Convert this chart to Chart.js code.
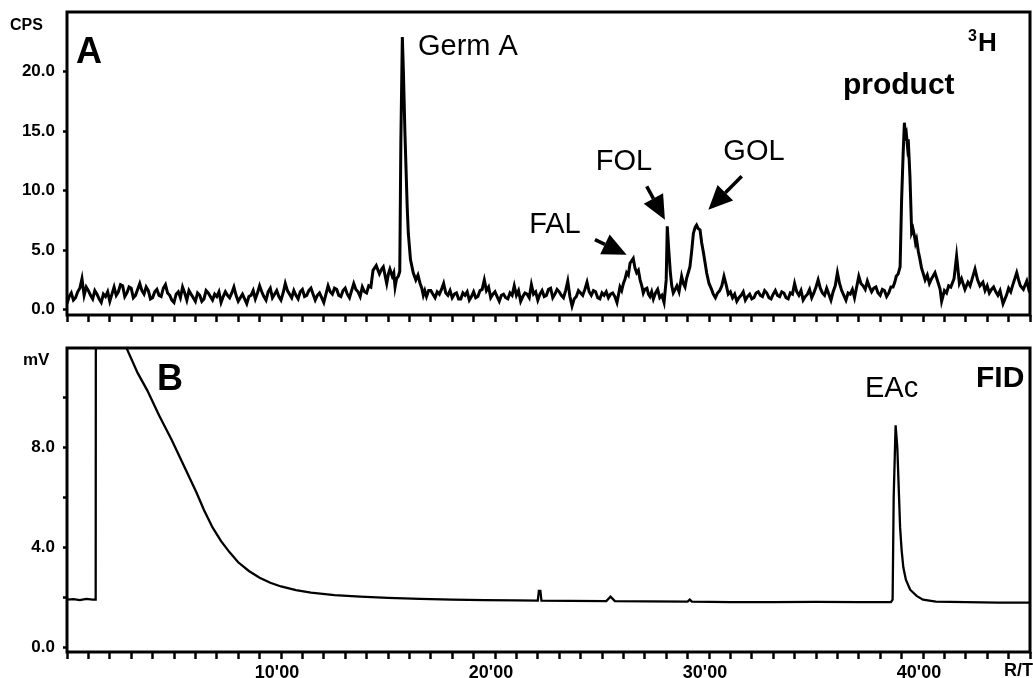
<!DOCTYPE html>
<html>
<head>
<meta charset="utf-8">
<script src="https://cdn.jsdelivr.net/npm/chart.js@4.4.1/dist/chart.umd.min.js"></script>
<style>
  html, body { margin: 0; padding: 0; background: #fff; }
  #wrap { position: relative; width: 1033px; height: 678px; }
  canvas { position: absolute; left: 0; }
  #chartA { top: 0; }
  #chartB { top: 335px; }
</style>
</head>
<body>
<div id="wrap">
  <canvas id="chartA" width="1033" height="335"></canvas>
  <canvas id="chartB" width="1033" height="343"></canvas>
</div>
<script>
// panel A : radioactivity detector (3H) -> [retention time (min), CPS]
const cpsTrace = [
  [0.0,0.5],[0.1,1.1],[0.2,1.4],[0.3,0.8],[0.4,1.0],[0.5,1.5],[0.6,1.8],[0.7,2.6],[0.8,1.2],[0.9,1.9],
  [1.0,1.6],[1.1,1.2],[1.2,0.9],[1.3,1.6],[1.4,1.3],[1.5,0.9],[1.6,0.6],[1.7,1.3],[1.8,1.1],[1.9,1.5],
  [2.0,0.7],[2.1,1.3],[2.2,1.9],[2.3,1.2],[2.4,1.5],[2.5,2.1],[2.6,2.0],[2.7,1.1],[2.8,1.4],[2.9,1.9],
  [3.0,1.8],[3.1,1.0],[3.2,1.2],[3.3,1.7],[3.4,2.2],[3.5,1.6],[3.6,1.3],[3.7,1.9],[3.8,1.6],[3.9,0.9],
  [4.0,1.0],[4.1,1.5],[4.2,1.7],[4.3,1.2],[4.4,1.1],[4.5,1.8],[4.6,2.1],[4.7,1.4],[4.8,1.2],[4.9,0.8],
  [5.0,0.6],[5.1,1.3],[5.2,1.5],[5.3,1.0],[5.4,1.9],[5.5,1.4],[5.6,0.8],[5.7,1.6],[5.8,1.3],[5.9,1.0],
  [6.0,0.7],[6.1,1.4],[6.2,1.2],[6.3,0.7],[6.4,0.9],[6.5,1.6],[6.6,1.4],[6.7,1.1],[6.8,0.8],[6.9,1.3],
  [7.0,1.1],[7.1,1.5],[7.2,0.6],[7.3,1.1],[7.4,1.5],[7.5,1.2],[7.6,1.0],[7.7,1.4],[7.8,1.9],[7.9,1.2],
  [8.0,0.7],[8.1,1.0],[8.2,1.3],[8.3,0.9],[8.4,0.5],[8.5,1.1],[8.6,1.2],[8.7,1.6],[8.8,0.9],[8.9,1.4],
  [9.0,2.0],[9.1,1.5],[9.2,1.1],[9.3,0.8],[9.4,1.5],[9.5,1.8],[9.6,1.0],[9.7,1.3],[9.8,1.6],[9.9,1.1],
  [10.0,0.8],[10.1,1.4],[10.2,2.2],[10.3,1.6],[10.4,1.3],[10.5,1.0],[10.6,1.6],[10.7,1.2],[10.8,0.9],[10.9,1.5],
  [11.0,1.7],[11.1,1.1],[11.2,1.2],[11.3,1.6],[11.4,1.8],[11.5,1.3],[11.6,0.8],[11.7,1.2],[11.8,1.4],[11.9,1.0],
  [12.0,0.6],[12.1,1.3],[12.2,2.0],[12.3,1.5],[12.4,1.3],[12.5,1.8],[12.6,1.7],[12.7,1.2],[12.8,1.1],[12.9,1.6],
  [13.0,1.8],[13.1,1.3],[13.2,1.0],[13.3,1.6],[13.4,2.2],[13.5,1.7],[13.6,1.5],[13.7,1.1],[13.8,1.9],[13.9,1.5],
  [14.0,1.4],[14.1,2.0],[14.2,1.9],
  // shoulder and Germ A
  [14.3,3.3],[14.45,3.7],[14.6,3.0],[14.7,3.4],[14.78,3.6],[14.86,2.9],[14.94,2.2],[15.02,3.0],[15.09,3.4],
  [15.2,2.8],[15.27,3.1],[15.33,1.9],[15.4,2.6],[15.48,2.8],[15.55,3.2],[15.6,14.0],[15.67,22.9],[15.72,20.0],
  [15.79,14.9],[15.9,8.5],[15.95,6.4],[16.05,4.2],[16.18,3.1],[16.3,2.5],[16.4,2.9],[16.5,2.2],[16.58,1.8],
  [16.65,1.2],[16.72,1.6],
  [16.8,1.1],[16.9,1.6],[17.0,1.6],[17.1,1.3],[17.2,1.0],[17.3,1.5],[17.4,1.3],[17.5,1.7],[17.6,2.2],[17.7,1.4],
  [17.8,1.2],[17.9,1.6],[18.0,1.0],[18.1,1.3],[18.2,1.4],[18.3,0.9],[18.4,0.9],[18.5,1.4],[18.6,1.2],[18.7,1.5],
  [18.8,0.8],[18.9,1.1],[19.0,1.5],[19.1,1.0],[19.2,1.1],[19.3,1.6],[19.4,1.7],[19.5,2.5],[19.6,1.6],[19.7,1.9],
  [19.8,1.0],[19.9,1.3],[20.0,1.5],[20.1,1.1],[20.2,0.7],[20.3,1.2],[20.4,1.3],[20.5,1.0],[20.6,0.9],[20.7,1.4],
  [20.8,1.2],[20.9,2.0],[21.0,1.2],[21.1,1.6],[21.2,0.7],[21.3,1.1],[21.4,1.4],[21.5,1.3],[21.6,1.0],[21.7,2.1],
  [21.8,1.3],[21.9,1.5],[22.0,0.8],[22.1,1.3],[22.2,1.6],[22.3,1.1],[22.4,1.2],[22.5,1.7],[22.6,1.8],[22.7,1.0],
  [22.8,1.3],[22.9,1.7],[23.0,1.5],[23.1,1.2],[23.2,1.0],[23.3,1.6],[23.4,2.4],[23.5,1.1],[23.6,0.3],[23.7,0.9],
  [23.8,1.1],[23.9,1.6],[24.0,1.4],[24.1,1.2],[24.2,1.7],[24.3,2.3],[24.4,1.5],[24.5,1.2],[24.6,1.6],[24.7,1.5],
  [24.8,1.0],[24.9,0.9],[25.0,1.4],[25.1,1.2],[25.2,1.5],[25.3,1.0],[25.4,1.3],[25.5,1.4],[25.6,1.1],[25.7,0.6],
  // FAL, FOL, GOL
  [25.84,1.9],[25.92,1.6],[26.0,2.2],[26.08,2.6],[26.15,3.1],[26.23,2.9],[26.31,3.9],[26.46,4.3],[26.54,3.5],
  [26.62,3.1],[26.7,3.3],[26.78,2.5],[26.86,2.0],[26.93,1.4],[27.0,1.7],[27.1,1.8],[27.17,1.3],[27.24,1.1],
  [27.32,1.5],[27.4,0.9],[27.5,1.4],[27.6,1.7],[27.7,1.0],[27.8,1.2],[27.9,0.6],[28.0,2.5],[28.05,7.0],
  [28.12,5.0],[28.19,3.2],[28.26,2.0],[28.33,1.4],[28.42,1.7],[28.5,2.0],[28.6,1.5],[28.72,2.8],[28.8,2.2],
  [28.88,1.9],[28.95,2.6],[29.03,3.1],[29.11,3.6],[29.19,4.9],[29.27,6.4],[29.35,6.9],[29.42,7.1],[29.5,6.8],
  [29.58,6.7],[29.66,5.6],[29.74,4.8],[29.82,3.9],[29.89,3.1],[30.0,2.2],[30.12,1.7],[30.2,1.3],
  [30.3,1.0],[30.4,1.4],[30.5,1.6],[30.6,2.0],[30.7,2.8],[30.8,2.1],[30.9,1.3],[31.0,1.5],[31.1,1.0],[31.2,1.3],
  [31.3,0.7],[31.4,1.0],[31.5,1.2],[31.6,1.5],[31.7,0.8],[31.8,1.1],[31.9,1.3],[32.0,0.9],[32.1,1.0],[32.2,1.4],
  [32.3,1.5],[32.4,1.2],[32.5,1.1],[32.6,1.6],[32.7,1.4],[32.8,1.0],[32.9,0.9],[33.0,1.3],[33.1,1.6],[33.2,1.2],
  [33.3,1.1],[33.4,1.5],[33.5,1.4],[33.6,1.0],[33.7,0.9],[33.8,1.4],[33.9,1.3],[34.0,2.2],[34.1,1.5],[34.2,1.2],
  [34.3,1.6],[34.4,0.8],[34.5,1.1],[34.6,1.3],[34.7,1.7],[34.8,1.0],[34.9,1.4],[35.0,1.9],[35.1,2.5],[35.2,1.8],
  [35.3,1.4],[35.4,1.2],[35.5,1.8],[35.6,1.3],[35.7,0.8],[35.8,1.5],[35.9,2.0],[36.0,3.1],[36.1,2.2],[36.2,1.6],
  [36.3,1.2],[36.4,0.8],[36.5,1.4],[36.6,1.3],[36.7,1.7],[36.8,1.0],[36.9,1.9],[37.0,2.8],[37.1,2.2],[37.2,2.0],
  [37.3,1.7],[37.4,2.4],[37.5,1.9],[37.6,1.5],[37.7,1.8],[37.8,1.9],[37.9,1.4],[38.0,1.2],[38.1,1.7],[38.2,1.6],
  [38.3,1.1],[38.4,1.4],[38.5,1.9],[38.6,1.9],
  // product
  [38.68,2.3],[38.75,2.8],[38.84,3.0],[38.93,3.6],[39.0,9.2],[39.07,13.0],[39.13,15.7],[39.18,14.6],[39.22,14.8],
  [39.27,13.8],[39.31,14.3],[39.39,11.2],[39.47,6.5],[39.53,6.8],[39.6,6.2],[39.65,5.6],[39.7,5.9],[39.78,4.9],
  [39.86,4.2],[39.93,3.5],
  [40.0,3.1],[40.1,2.5],[40.2,2.9],[40.3,2.2],[40.4,2.6],[40.56,3.1],[40.7,2.3],[40.8,1.7],[40.87,0.7],[41.0,1.6],
  [41.1,1.4],[41.2,2.0],[41.3,1.9],[41.45,2.6],[41.57,4.5],[41.7,2.2],[41.8,2.6],[41.96,1.7],[42.1,2.3],[42.2,2.0],
  [42.3,2.6],[42.43,3.4],[42.55,2.5],[42.66,2.0],[42.8,2.3],[42.9,1.6],[43.0,2.0],[43.1,1.4],[43.2,1.7],[43.3,1.9],
  [43.4,1.5],[43.5,1.2],[43.6,1.6],[43.74,0.5],[43.9,1.2],[44.0,1.8],[44.1,1.5],[44.2,2.1],[44.38,3.1],[44.48,2.4],
  [44.55,2.0],[44.69,1.7],[44.78,2.1],[44.85,2.4],[44.93,1.8],[45.0,2.2]
];

// panel B : flame ionisation detector -> [retention time (min), mV]
const fidTrace = [
  [0.0,1.9],[0.3,1.92],[0.6,1.88],[0.9,1.93],[1.2,1.9],[1.34,1.9],[1.36,30],[2.6,30],[2.78,12.0],
  [3.3,11.0],[3.75,10.3],[4.3,9.3],[4.9,8.3],[5.5,7.2],[6.05,6.2],[6.4,5.5],[6.8,4.8],[7.2,4.25],
  [7.6,3.8],[8.0,3.4],[8.5,3.05],[9.0,2.78],[9.5,2.58],[10.0,2.43],[10.7,2.28],[11.4,2.18],[12.5,2.08],
  [13.7,2.02],[15.0,1.97],[16.5,1.93],[18.0,1.9],[19.5,1.88],[21.0,1.87],[22.0,1.86],[22.05,2.25],
  [22.12,2.25],[22.17,1.86],[23.5,1.85],[25.2,1.84],[25.4,2.02],[25.6,1.84],[27.0,1.83],[29.0,1.82],
  [29.1,1.9],[29.2,1.82],[31.0,1.8],[33.0,1.8],[35.0,1.81],[37.0,1.8],[38.5,1.8],[38.58,1.9],[38.63,6.0],
  [38.72,8.9],[38.8,8.0],[38.93,4.8],[39.0,3.9],[39.08,3.2],[39.2,2.7],[39.4,2.3],[39.7,2.05],[40.0,1.9],
  [40.6,1.82],[42.0,1.8],[43.5,1.78],[45.0,1.78]
];

const ticksA = [0, 5, 10, 15, 20];
const ticksB = [0, 2, 4, 6, 8, 10];
const labelledB = [0, 4, 8];
const minuteLabels = [10, 20, 30, 40];

const FONT = '"Liberation Sans", Arial, Helvetica, sans-serif';

// frame, texts and arrows
const decorPlugin = {
  id: 'decor',
  afterDraw(chart, args, opts) {
    const ctx = chart.ctx;
    const xs = chart.scales.x, ys = chart.scales.y;
    const a = chart.chartArea;
    ctx.save();
    ctx.strokeStyle = '#000';
    ctx.fillStyle = '#000';
    ctx.lineWidth = 3;
    ctx.strokeRect(a.left, a.top, a.right - a.left, a.bottom - a.top);

    (opts.texts || []).forEach(it => {
      const px = it.t !== undefined ? xs.getPixelForValue(it.t) : it.x;
      const py = it.v !== undefined ? ys.getPixelForValue(it.v) : it.y;
      ctx.font = it.font;
      ctx.textAlign = it.align || 'left';
      ctx.textBaseline = it.baseline || 'alphabetic';
      ctx.fillText(it.text, px, py);
    });

    (opts.arrows || []).forEach(ar => {
      const x0 = xs.getPixelForValue(ar.from[0]), y0 = ys.getPixelForValue(ar.from[1]);
      const x1 = xs.getPixelForValue(ar.to[0]), y1 = ys.getPixelForValue(ar.to[1]);
      const ang = Math.atan2(y1 - y0, x1 - x0);
      const hl = 24, hw = 11;
      const bx = x1 - hl * Math.cos(ang), by = y1 - hl * Math.sin(ang);
      ctx.lineWidth = 3.5;
      ctx.beginPath();
      ctx.moveTo(x0, y0);
      ctx.lineTo(bx, by);
      ctx.stroke();
      ctx.beginPath();
      ctx.moveTo(x1, y1);
      ctx.lineTo(bx + hw * Math.sin(ang), by - hw * Math.cos(ang));
      ctx.lineTo(bx - hw * Math.sin(ang), by + hw * Math.cos(ang));
      ctx.closePath();
      ctx.fill();
    });
    ctx.restore();
  }
};

function timeAxis(withLabels) {
  return {
    type: 'linear',
    min: 0,
    max: 45,
    border: { display: false },
    grid: { drawOnChartArea: false, drawTicks: true, tickLength: 7, tickWidth: 2.5, tickColor: '#000' },
    afterBuildTicks: s => {
      s.ticks = [];
      for (let m = 0; m <= 45; m++) s.ticks.push({ value: m });
    },
    ticks: {
      display: withLabels,
      autoSkip: false,
      maxRotation: 0,
      padding: 3,
      labelOffset: -4,
      color: '#000',
      font: { family: FONT, size: 18, weight: 'bold' },
      callback: v => minuteLabels.includes(v) ? v + "'00" : ''
    },
    afterFit: s => {
      s.height = withLabels ? 26 : 20;
      s.paddingLeft = 0;
      s.paddingRight = 0;
    }
  };
}

function valueAxis(min, max, tickList, shown) {
  return {
    type: 'linear',
    min: min,
    max: max,
    border: { display: false },
    grid: { drawOnChartArea: false, drawTicks: true, tickLength: 4, tickWidth: 2.5, tickColor: '#000' },
    afterBuildTicks: s => { s.ticks = tickList.map(v => ({ value: v })); },
    ticks: {
      padding: 8,
      color: '#000',
      font: { family: FONT, size: 17, weight: 'bold' },
      callback: v => shown.includes(v) ? v.toFixed(1) : ''
    },
    afterFit: s => {
      s.width = 67;
      s.paddingTop = 0;
      s.paddingBottom = 0;
    }
  };
}

new Chart(document.getElementById('chartA'), {
  type: 'line',
  data: {
    datasets: [{
      data: cpsTrace.map(p => ({ x: p[0], y: p[1] })),
      borderColor: '#000',
      borderWidth: 3,
      pointRadius: 0,
      tension: 0
    }]
  },
  options: {
    responsive: false,
    animation: false,
    layout: { padding: { top: 12, right: 3, left: 0, bottom: 0 } },
    scales: {
      x: timeAxis(false),
      y: valueAxis(-0.45, 25, ticksA, ticksA)
    },
    plugins: {
      legend: { display: false },
      tooltip: { enabled: false },
      decor: {
        texts: [
          { text: 'A', x: 76, y: 63, font: 'bold 36px ' + FONT },
          { text: 'CPS', x: 10, y: 30, font: 'bold 16px ' + FONT },
          { text: '3', x: 968, y: 41, font: 'bold 16px ' + FONT },
          { text: 'H', x: 978, y: 51, font: 'bold 26px ' + FONT },
          { text: 'Germ A', t: 16.4, v: 21.4, font: '29px ' + FONT },
          { text: 'FAL', t: 22.8, v: 6.4, font: '29px ' + FONT, align: 'center' },
          { text: 'FOL', t: 26.03, v: 11.76, font: '29px ' + FONT, align: 'center' },
          { text: 'GOL', t: 32.1, v: 12.6, font: '29px ' + FONT, align: 'center' },
          { text: 'product', t: 36.26, v: 18.1, font: 'bold 30px ' + FONT }
        ],
        arrows: [
          { from: [24.67, 5.88], to: [26.15, 4.62] },
          { from: [27.09, 10.36], to: [27.94, 7.56] },
          { from: [31.53, 11.2], to: [29.97, 8.4] }
        ]
      }
    }
  },
  plugins: [decorPlugin]
});

new Chart(document.getElementById('chartB'), {
  type: 'line',
  data: {
    datasets: [{
      data: fidTrace.map(p => ({ x: p[0], y: p[1] })),
      borderColor: '#000',
      borderWidth: 2.3,
      pointRadius: 0,
      tension: 0
    }]
  },
  options: {
    responsive: false,
    animation: false,
    layout: { padding: { top: 13, right: 3, left: 0, bottom: 0 } },
    scales: {
      x: timeAxis(true),
      y: valueAxis(-0.2, 12, ticksB, labelledB)
    },
    plugins: {
      legend: { display: false },
      tooltip: { enabled: false },
      decor: {
        texts: [
          { text: 'B', x: 157, y: 55, font: 'bold 36px ' + FONT },
          { text: 'mV', x: 23, y: 30, font: 'bold 17px ' + FONT },
          { text: 'FID', x: 976, y: 52, font: 'bold 30px ' + FONT },
          { text: 'EAc', t: 37.29, v: 10.04, font: '29px ' + FONT },
          { text: 'R/T', x: 1033, y: 327, font: 'bold 18px ' + FONT, align: 'right', baseline: 'top' }
        ]
      }
    }
  },
  plugins: [decorPlugin]
});
</script>
</body>
</html>
